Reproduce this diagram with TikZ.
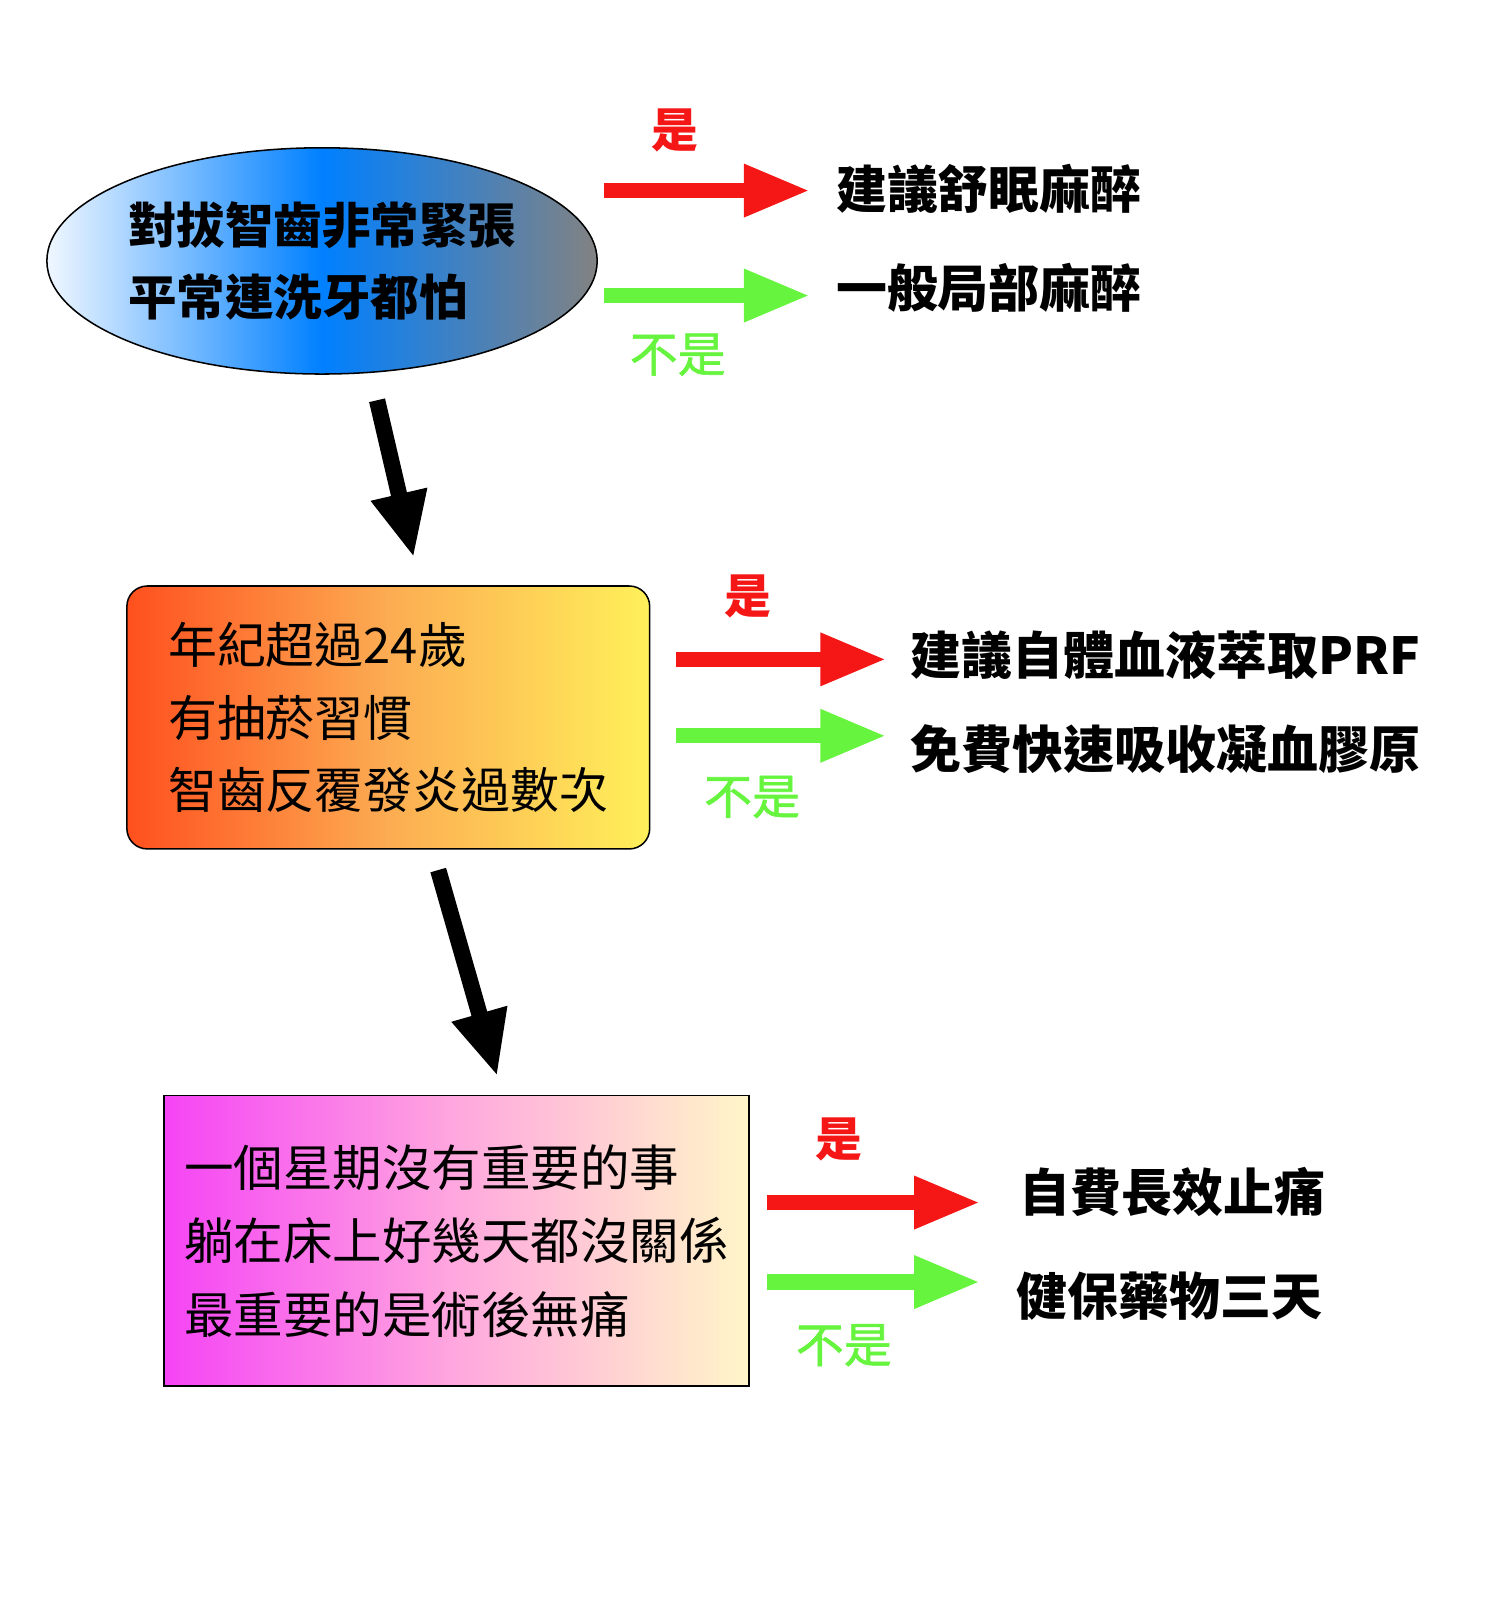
\documentclass[tikz,border=0pt]{standalone}
\usepackage{fontspec}
\newfontfamily\cjk{Noto Sans CJK TC}
\newfontfamily\cjkmid[FakeBold=1.2]{Noto Sans CJK TC}
\usetikzlibrary{positioning,calc,arrows.meta,shapes.geometric}
\definecolor{yesred}{RGB}{245,22,22}
\definecolor{nogreen}{RGB}{102,244,62}
\tikzset{>=stealth}
\tikzset{
  yesarr/.style={yesred,line width=7.5pt,-{Triangle[length=32.5pt,width=24pt]}},
  noarr/.style={nogreen,line width=7.5pt,-{Triangle[length=32.5pt,width=24pt]}},
  downarr/.style={black,line width=8pt,-{Triangle[length=32pt,width=26pt]}},
  yeslab/.style={text=yesred,inner sep=0pt,font=\cjk\bfseries\fontsize{23}{23}\selectfont},
  nolab/.style={text=nogreen,inner sep=0pt,font=\cjkmid\fontsize{23.5}{23.5}\selectfont},
  ans/.style={anchor=west,inner sep=0pt,font=\cjk\bfseries\fontsize{25}{25}\selectfont},
  askbox/.style={draw,line width=0.75pt,align=left,inner sep=0pt}
}
\begin{document}
\begin{tikzpicture}[x=0.5pt,y=-0.5pt]
\useasboundingbox (0,0) rectangle (1460,1570);
\node[askbox,ellipse,minimum width=270pt,minimum height=111pt,
  left color={rgb,255:red,240;green,247;blue,255},right color={rgb,255:red,130;green,130;blue,130},
  middle color={rgb,255:red,0;green,128;blue,255},
  font=\cjk\bfseries\fontsize{23.8}{35}\selectfont] (q1) at (316,256)
  {對拔智齒非常緊張\\平常連洗牙都怕};
\node[askbox,rounded corners=10pt,minimum width=256.5pt,minimum height=129pt,
  left color={rgb,255:red,255;green,80;blue,30},right color={rgb,255:red,255;green,240;blue,90},
  middle color={rgb,255:red,252;green,172;blue,82},
  font=\cjk\fontsize{24}{35.5}\selectfont] (q2) at (381,704)
  {年紀超過24歲\\有抽菸習慣\\智齒反覆發炎過數次};
\node[askbox,minimum width=287pt,minimum height=142.5pt,
  left color={rgb,255:red,245;green,68;blue,245},right color={rgb,255:red,255;green,246;blue,200},
  middle color={rgb,255:red,255;green,168;blue,222},
  font=\cjk\fontsize{24.3}{36}\selectfont] (q3) at (448,1217.5)
  {一個星期沒有重要的事\\躺在床上好幾天都沒關係\\最重要的是術後無痛};
\draw[downarr] ($(q1.south)+(54,25)$) -- ($(q2.north)+(25,-27)$);
\draw[downarr] ($(q2.south)+(49,20)$) -- ($(q3.north)+(40,-18)$);
\node[ans] (a1) at (820,185) {建議舒眠麻醉};
\node[ans] (a2) at (820,282) {一般局部麻醉};
\node[ans] (a3) at (893,643) {建議自體血液萃取PRF};
\node[ans] (a4) at (893,735) {免費快速吸收凝血膠原};
\node[ans] (a5) at (1000,1170) {自費長效止痛};
\node[ans] (a6) at (997,1272) {健保藥物三天};
\draw[yesarr] ([xshift=3pt]q1.east |- 0,187) -- ([xshift=-12.5pt]a1.west |- 0,187);
\draw[noarr] ([xshift=3pt]q1.east |- 0,290) -- ([xshift=-12.5pt]a2.west |- 0,290);
\draw[yesarr] ([xshift=12.5pt]q2.east |- 0,647) -- ([xshift=-11.5pt]a3.west |- 0,647);
\draw[noarr] ([xshift=12.5pt]q2.east |- 0,722) -- ([xshift=-11.5pt]a4.west |- 0,722);
\draw[yesarr] ([xshift=8.5pt]q3.east |- 0,1180) -- ([xshift=-19pt]a5.west |- 0,1180);
\draw[noarr] ([xshift=8.5pt]q3.east |- 0,1258) -- ([xshift=-17.5pt]a6.west |- 0,1258);
\node[yeslab] (y1) at (662,128) {是};
\node[nolab] (n1) at (665,348) {不是};
\node[yeslab] (y2) at (734,585) {是};
\node[nolab] (n2) at (738,782) {不是};
\node[yeslab] (y3) at (823,1118) {是};
\node[nolab] (n3) at (828,1320) {不是};
\end{tikzpicture}
\end{document}
